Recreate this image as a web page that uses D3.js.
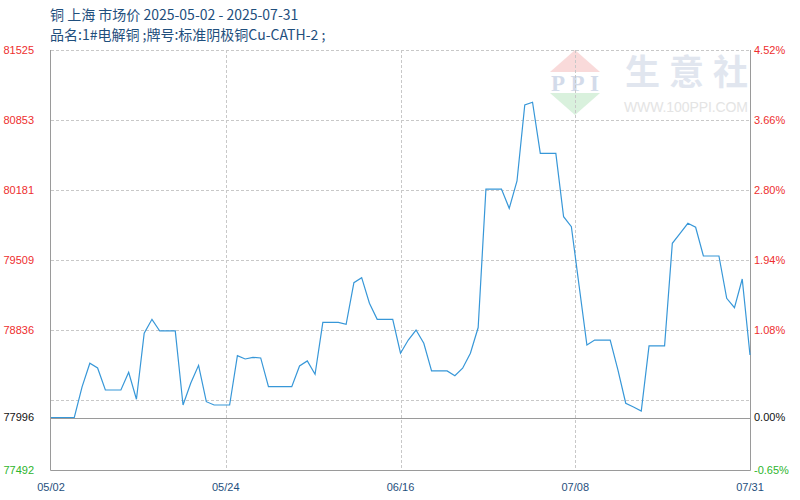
<!DOCTYPE html>
<html><head><meta charset="utf-8">
<script src="https://cdn.jsdelivr.net/npm/d3@7/dist/d3.min.js"></script>
<style>html,body{margin:0;padding:0;background:#fff;}svg{display:block;}</style>
</head><body>
<svg id="c" width="800" height="500"></svg>
<script>
const titleLine1 = "铜 上海 市场价 2025-05-02 - 2025-07-31";
const titleLine2 = "品名:1#电解铜 ;牌号:标准阴极铜Cu-CATH-2 ;";
const startDate = "2025-05-02";
const endDate = "2025-07-31";
const xTickLabels = ["05/02", "05/24", "06/16", "07/08", "07/31"];
const baseValue = 77996;
const yMin = 77492, yMax = 81525;
const prices = [
  77996, 77996, 77996, 77996, 78290, 78517, 78472, 78260, 78260, 78260,
  78430, 78171, 78805, 78939, 78827, 78827, 78827, 78116, 78328, 78497,
  78148, 78116, 78116, 78116, 78590, 78558, 78574, 78568, 78292, 78292,
  78292, 78292, 78491, 78539, 78411, 78910, 78910, 78910, 78891, 79291,
  79339, 79093, 78939, 78939, 78939, 78613, 78740, 78836, 78709, 78443,
  78443, 78443, 78398, 78469, 78613, 78860, 80190, 80190, 80190, 80005,
  80267, 80997, 81023, 80533, 80533, 80533, 79924, 79828, 79259, 78692,
  78740, 78740, 78740, 78452, 78133, 78097, 78059, 78683, 78683, 78683,
  79669, 79765, 79861, 79823, 79547, 79547, 79547, 79141, 79051, 79326,
  78596
];

const parse = d3.timeParse("%Y-%m-%d");
const dates = d3.timeDay.range(parse(startDate), d3.timeDay.offset(parse(endDate), 1));
const data = dates.map((d, i) => ({date: d, value: prices[i]}));

const svg = d3.select("#c");
const L = 51, R = 750, T = 50, B = 470;
const x = d3.scaleTime().domain([parse(startDate), parse(endDate)]).range([L, R]);
const y = d3.scaleLinear().domain([yMin, yMax]).range([B, T]);

// watermark
const wm = svg.append("g");
wm.append("path").attr("d", "M550,72 L575,50 L600,72 Z").attr("fill", "#f9dada");
wm.append("path").attr("d", "M550,93 L575,115 L600,93 Z").attr("fill", "#d9f1dd");
wm.append("text").attr("x", 575).attr("y", 91).attr("text-anchor", "middle")
  .attr("font-family", "Liberation Serif").attr("font-weight", "bold").attr("font-size", 23)
  .attr("fill", "#d3dbea").attr("textLength", 48).text("PPI");
wm.append("text").attr("x", 625).attr("y", 85).attr("font-family", "Noto Sans CJK SC")
  .attr("font-weight", "bold").attr("font-size", 35).attr("fill", "#e1e6ef")
  .attr("textLength", 123).attr("lengthAdjust", "spacing").text("生意社");
wm.append("text").attr("x", 624).attr("y", 112).attr("font-family", "Liberation Sans")
  .attr("font-size", 14).attr("fill", "#e4e4e4").attr("textLength", 124).text("WWW.100PPI.COM");

// horizontal grid
const gridVals = d3.range(7).map(k => yMax - k * (yMax - yMin) / 6);
svg.append("g").selectAll("line").data(gridVals).join("line")
  .attr("x1", L).attr("x2", R)
  .attr("y1", d => Math.round(y(d)) + 0.5).attr("y2", d => Math.round(y(d)) + 0.5)
  .attr("stroke", "#c8c8c8").attr("stroke-dasharray", "3,2");

// vertical grid
const xTickPos = d3.range(5).map(k => L + k * (R - L) / 4);
svg.append("g").selectAll("line").data(xTickPos.slice(1, 4)).join("line")
  .attr("x1", d => Math.round(d) + 0.5).attr("x2", d => Math.round(d) + 0.5)
  .attr("y1", T).attr("y2", B)
  .attr("stroke", "#c8c8c8").attr("stroke-dasharray", "3,2");

// base line
svg.append("line").attr("x1", L).attr("x2", R)
  .attr("y1", Math.round(y(baseValue)) + 0.5).attr("y2", Math.round(y(baseValue)) + 0.5)
  .attr("stroke", "#9a9a9a");

// frame
svg.append("path").attr("d", `M${L - 0.5},${T} V${B + 0.5} H${R + 0.5} V${T}`)
  .attr("fill", "none").attr("stroke", "#9a9a9a");

// line
svg.append("path").datum(data)
  .attr("d", d3.line().x(d => x(d.date)).y(d => y(d.value)))
  .attr("fill", "none").attr("stroke", "#3797d8").attr("stroke-width", 1.2);

// y labels
const labelVals = gridVals.slice(0, 5);
const fmtPct = v => ((v / baseValue - 1) * 100).toFixed(2) + "%";
const lab = svg.append("g").attr("font-family", "Liberation Sans").attr("font-size", 11);
function yLabel(v, color) {
  lab.append("text").attr("x", 34).attr("y", y(v)).attr("dy", "0.35em")
    .attr("text-anchor", "end").attr("fill", color).text(Math.round(v));
  lab.append("text").attr("x", 754).attr("y", y(v)).attr("dy", "0.35em")
    .attr("fill", color).text(fmtPct(v));
}
labelVals.forEach(v => yLabel(v, "#ee2e2e"));
yLabel(baseValue, "#111");
yLabel(yMin, "#2db52d");

// x labels
svg.append("g").attr("font-family", "Liberation Sans").attr("font-size", 11).attr("fill", "#1f4f7d")
  .selectAll("text").data(xTickLabels).join("text")
  .attr("x", (d, i) => xTickPos[i]).attr("y", 491).attr("text-anchor", "middle").text(d => d);

// title
const tt = svg.append("g").attr("font-family", "Noto Sans CJK SC").attr("font-size", 14).attr("fill", "#1f4f7d");
tt.append("text").attr("x", 50).attr("y", 20).text(titleLine1);
tt.append("text").attr("x", 50).attr("y", 40).text(titleLine2);
</script>
</body></html>
